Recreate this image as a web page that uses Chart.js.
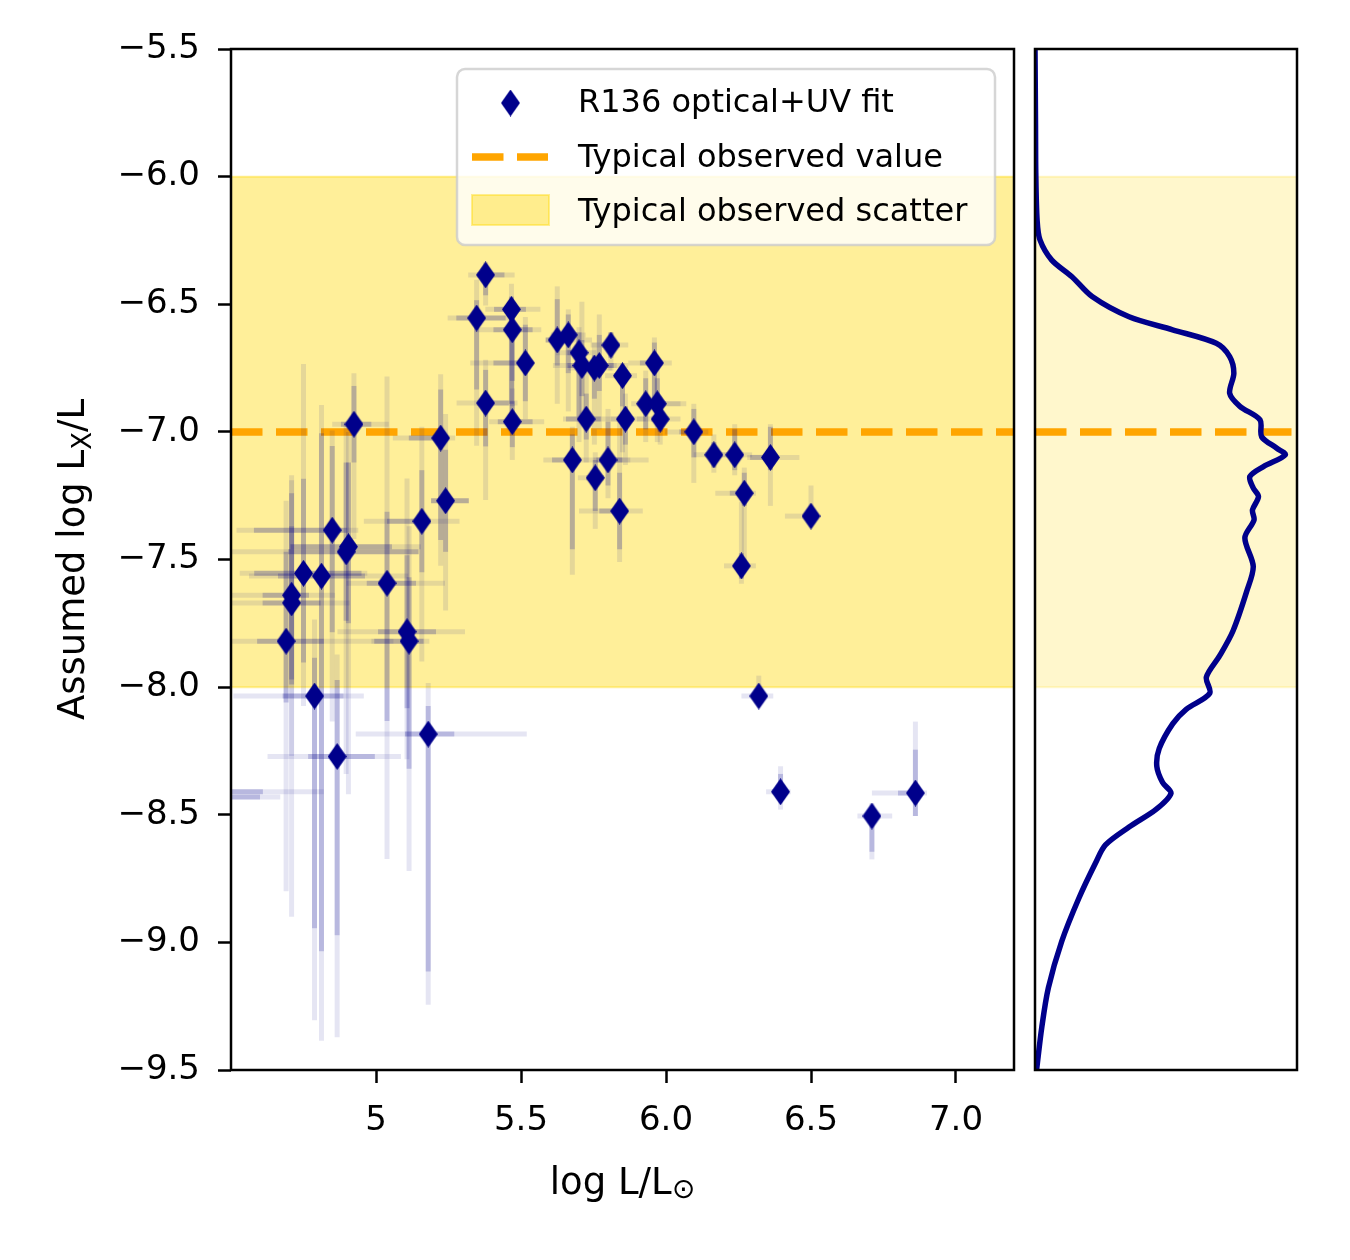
<!DOCTYPE html>
<html>
<head>
<meta charset="utf-8">
<script src="https://cdn.jsdelivr.net/npm/chart.js@4.4.0/dist/chart.umd.min.js"></script>
<style>
  body { margin: 0; background: #fff; }
  #wrap { position: relative; width: 1350px; height: 1260px; }
  #main { position: absolute; left: 0; top: 0; }
  #side { position: absolute; left: 1020px; top: 0; }
</style>
</head>
<body>
<div id="wrap">
  <canvas id="main" width="1025" height="1260"></canvas>
  <canvas id="side" width="300" height="1260"></canvas>
</div>
<script>
// R136 stars: log L/Lsun and assumed log Lx/L
const logL = [4.47, 4.40, 4.69, 4.709, 4.709, 4.75, 4.812, 4.788, 4.866, 4.849, 4.897, 4.905, 4.924,
  5.038, 5.107, 5.114, 5.18, 5.158, 5.223, 5.24,
  5.378, 5.347, 5.467, 5.47, 5.515, 5.378, 5.47, 5.625, 5.663, 5.70, 5.71, 5.753, 5.77, 5.81, 5.85,
  5.96, 5.725, 5.86, 5.93, 5.97, 5.98, 5.677, 5.80, 5.756, 5.84,
  6.096, 6.165, 6.237, 6.36, 6.27, 6.26, 6.50, 6.32, 6.395, 6.71, 6.86];
const logLx = [-8.43, -8.41, -7.82, -7.64, -7.67, -7.554, -7.565, -8.035, -8.272, -7.385, -7.47, -7.45, -6.97,
  -7.593, -7.783, -7.82, -8.184, -7.35, -7.024, -7.27,
  -6.385, -6.554, -6.52, -6.60, -6.73, -6.887, -6.96, -6.64, -6.62, -6.69, -6.74, -6.75, -6.74, -6.66, -6.78,
  -6.73, -6.95, -6.95, -6.89, -6.89, -6.95, -7.11, -7.11, -7.18, -7.31,
  -7.00, -7.09, -7.09, -7.10, -7.24, -7.525, -7.33, -8.035, -8.41, -8.505, -8.415];

// error bars: inner (1 sigma) and outer (2 sigma), lower / upper offsets
const xErrInLo = [0.10, 0.10, 0.10, 0.10, 0.10, 0.17, 0.15, 0.11, 0.10, 0.27, 0.20, 0.20, 0.045,
  0.07, 0.10, 0.12, 0.08, 0.12, 0.11, 0.05,
  0.03, 0.07, 0.06, 0.065, 0.11, 0.03, 0.05, 0.04, 0.03, 0.04, 0.05, 0.05, 0.04, 0.03, 0.03,
  0.05, 0.07, 0.03, 0.03, 0.03, 0.03, 0.07, 0.04, 0.03, 0.07,
  0.05, 0.03, 0.03, 0.07, 0.05, 0.02, 0.00, 0.00, 0.03, 0.00, 0.06];
const xErrInHi = [0.13, 0.21, 0.13, 0.06, 0.10, 0.20, 0.15, 0.10, 0.13, 0.05, 0.25, 0.15, 0.06,
  0.10, 0.10, 0.05, 0.09, 0.03, 0.00, 0.08,
  0.065, 0.10, 0.05, 0.07, 0.00, 0.08, 0.07, 0.04, 0.03, 0.03, 0.05, 0.03, 0.05, 0.03, 0.03,
  0.03, 0.05, 0.03, 0.06, 0.03, 0.03, 0.03, 0.05, 0.03, 0.03,
  0.02, 0.03, 0.03, 0.00, 0.02, 0.02, 0.00, 0.00, 0.00, 0.00, 0.00];
const xErrOutLo = [0.15, 0.20, 0.19, 0.25, 0.30, 0.22, 0.25, 0.28, 0.24, 0.33, 0.55, 0.20, 0.075,
  0.14, 0.24, 0.13, 0.25, 0.20, 0.165, 0.05,
  0.06, 0.10, 0.09, 0.13, 0.19, 0.10, 0.08, 0.04, 0.06, 0.08, 0.10, 0.09, 0.06, 0.07, 0.06,
  0.09, 0.08, 0.05, 0.05, 0.06, 0.08, 0.10, 0.05, 0.06, 0.14,
  0.10, 0.07, 0.04, 0.08, 0.10, 0.06, 0.09, 0.06, 0.05, 0.05, 0.15];
const xErrOutHi = [0.20, 0.42, 0.37, 0.15, 0.20, 0.22, 0.30, 0.17, 0.22, 0.09, 0.25, 0.25, 0.12,
  0.20, 0.20, 0.07, 0.34, 0.13, 0.05, 0.08,
  0.10, 0.12, 0.10, 0.10, 0.03, 0.11, 0.11, 0.12, 0.06, 0.06, 0.12, 0.06, 0.10, 0.06, 0.05,
  0.06, 0.12, 0.07, 0.14, 0.08, 0.07, 0.20, 0.14, 0.03, 0.08,
  0.05, 0.08, 0.06, 0.10, 0.04, 0.05, 0.00, 0.05, 0.035, 0.07, 0.04];
const yErrInLo = [0.30, 0.30, 0.24, 0.35, 0.30, 0.35, 1.47, 0.91, 0.70, 0.40, 0.27, 0.30, 0.15,
  0.54, 0.30, 0.50, 0.93, 0.20, 0.40, 0.20,
  0.08, 0.28, 0.37, 0.20, 0.15, 0.17, 0.10, 0.10, 0.15, 0.25, 0.12, 0.12, 0.10, 0.05, 0.12,
  0.15, 0.08, 0.10, 0.10, 0.08, 0.05, 0.35, 0.10, 0.13, 0.15,
  0.10, 0.05, 0.06, 0.05, 0.05, 0.05, 0.00, 0.00, 0.00, 0.14, 0.09];
const yErrInHi = [0.20, 0.20, 0.35, 0.40, 0.30, 0.37, 0.56, 0.15, 0.30, 0.33, 0.35, 0.33, 0.15,
  0.28, 0.30, 0.25, 0.11, 0.20, 0.19, 0.20,
  0.03, 0.07, 0.05, 0.05, 0.15, 0.13, 0.08, 0.16, 0.08, 0.08, 0.10, 0.05, 0.12, 0.05, 0.03,
  0.08, 0.10, 0.05, 0.10, 0.10, 0.05, 0.10, 0.15, 0.07, 0.15,
  0.09, 0.05, 0.10, 0.12, 0.08, 0.05, 0.00, 0.00, 0.07, 0.03, 0.17];
const yErrOutLo = [0.60, 0.60, 0.98, 1.26, 0.60, 0.52, 1.82, 1.27, 1.10, 0.75, 0.87, 0.97, 0.45,
  1.08, 0.50, 0.90, 1.06, 0.55, 0.50, 0.43,
  0.12, 0.50, 0.45, 0.30, 0.22, 0.38, 0.15, 0.25, 0.30, 0.35, 0.20, 0.30, 0.25, 0.10, 0.30,
  0.17, 0.17, 0.18, 0.15, 0.15, 0.10, 0.45, 0.15, 0.20, 0.20,
  0.20, 0.07, 0.08, 0.19, 0.30, 0.07, 0.00, 0.03, 0.07, 0.17, 0.09];
const yErrOutHi = [0.30, 0.30, 0.55, 0.45, 0.50, 0.82, 0.67, 0.30, 0.40, 0.39, 0.50, 0.45, 0.20,
  0.81, 0.60, 0.45, 0.20, 0.37, 0.25, 0.34,
  0.05, 0.15, 0.10, 0.10, 0.18, 0.17, 0.13, 0.21, 0.10, 0.10, 0.25, 0.10, 0.20, 0.05, 0.05,
  0.10, 0.20, 0.10, 0.13, 0.15, 0.08, 0.13, 0.20, 0.10, 0.35,
  0.11, 0.08, 0.12, 0.13, 0.10, 0.25, 0.12, 0.08, 0.10, 0.05, 0.28];

// typical observed value and scatter
const observedValue = -7.0;
const scatterLow = -8.0;
const scatterHigh = -6.0;

// KDE of log Lx/L (right panel), density scaled to panel width
const kdeLogLx = [-5.5, -5.8, -5.986, -6.17, -6.248, -6.327, -6.392, -6.47, -6.549, -6.60, -6.653, -6.705,
  -6.77, -6.849, -6.90, -6.953, -7.019, -7.064, -7.09, -7.136, -7.175, -7.22, -7.254, -7.306, -7.345,
  -7.415, -7.527, -7.625, -7.779, -7.877, -7.961, -8.024, -8.087, -8.143, -8.241, -8.311, -8.374,
  -8.416, -8.479, -8.548, -8.618, -8.689, -8.828, -8.996, -9.178, -9.332, -9.5];
const kdeDensity = [0.0, 0.002, 0.003, 0.008, 0.019, 0.064, 0.141, 0.218, 0.359, 0.525, 0.692, 0.743,
  0.759, 0.743, 0.782, 0.859, 0.865, 0.923, 0.955, 0.872, 0.82, 0.833, 0.853, 0.83, 0.836,
  0.801, 0.833, 0.808, 0.756, 0.705, 0.654, 0.667, 0.577, 0.526, 0.474, 0.465, 0.487,
  0.519, 0.462, 0.359, 0.269, 0.231, 0.167, 0.102, 0.051, 0.026, 0.006];

const xTicks = [5, 5.5, 6, 6.5, 7];
const xTickLabels = ['5', '5.5', '6.0', '6.5', '7.0'];
const yTicks = [-9.5, -9, -8.5, -8, -7.5, -7, -6.5, -6, -5.5];
const yTickLabels = ['−9.5', '−9.0', '−8.5', '−8.0', '−7.5', '−7.0', '−6.5', '−6.0', '−5.5'];

const NAVY = '#00008b';
const ORANGE = '#ffa500';
const FONT = 'DejaVu Sans';

// thin diamond marker ('d' in matplotlib)
function makeDiamond() {
  const c = document.createElement('canvas');
  c.width = 19; c.height = 27;
  const g = c.getContext('2d');
  g.fillStyle = NAVY;
  g.beginPath();
  g.moveTo(9.5, 0); g.lineTo(19, 13.5); g.lineTo(9.5, 27); g.lineTo(0, 13.5);
  g.closePath();
  g.fill();
  return c;
}
const diamond = makeDiamond();

function spanPlugin(alpha) {
  return {
    id: 'span',
    beforeDatasetsDraw(chart) {
      const {ctx, chartArea: a, scales: {y}} = chart;
      const top = y.getPixelForValue(scatterHigh);
      const bot = y.getPixelForValue(scatterLow);
      ctx.save();
      ctx.fillStyle = 'rgba(255,215,0,' + alpha + ')';
      ctx.fillRect(a.left, top, a.right - a.left, bot - top);
      ctx.strokeStyle = 'rgba(255,215,0,' + alpha + ')';
      ctx.lineWidth = 2;
      ctx.beginPath();
      ctx.moveTo(a.left, top); ctx.lineTo(a.right, top);
      ctx.moveTo(a.left, bot); ctx.lineTo(a.right, bot);
      ctx.stroke();
      ctx.restore();
    }
  };
}

const framePlugin = {
  id: 'frame',
  afterDatasetsDraw(chart) {
    const {ctx, chartArea: a} = chart;
    ctx.save();
    ctx.strokeStyle = '#000';
    ctx.lineWidth = 2.5;
    ctx.strokeRect(a.left, a.top, a.right - a.left, a.bottom - a.top);
    ctx.restore();
  }
};

const errorBarPlugin = {
  id: 'errorbars',
  afterDatasetDraw(chart, args) {
    if (args.index !== 1) return;
    const {ctx, chartArea: a, scales: {x, y}} = chart;
    ctx.save();
    ctx.beginPath();
    ctx.rect(a.left, a.top, a.right - a.left, a.bottom - a.top);
    ctx.clip();
    ctx.lineWidth = 5;
    ctx.lineCap = 'butt';
    const layers = [
      ['rgba(0,0,139,0.1)', xErrOutLo, xErrOutHi, yErrOutLo, yErrOutHi],
      ['rgba(0,0,139,0.2)', xErrInLo, xErrInHi, yErrInLo, yErrInHi]
    ];
    layers.forEach(([col, xl, xh, yl, yh]) => {
      ctx.strokeStyle = col;
      logL.forEach((lx, i) => {
        const ly = logLx[i];
        const px = x.getPixelForValue(lx);
        const py = y.getPixelForValue(ly);
        if (xl[i] + xh[i] > 0) {
          ctx.beginPath();
          ctx.moveTo(x.getPixelForValue(lx - xl[i]), py);
          ctx.lineTo(x.getPixelForValue(lx + xh[i]), py);
          ctx.stroke();
        }
        if (yl[i] + yh[i] > 0) {
          ctx.beginPath();
          ctx.moveTo(px, y.getPixelForValue(ly - yl[i]));
          ctx.lineTo(px, y.getPixelForValue(ly + yh[i]));
          ctx.stroke();
        }
      });
    });
    ctx.restore();
  }
};

// axis titles with sub/superscript parts, and the legend box
const textPlugin = {
  id: 'texts',
  afterDraw(chart) {
    const {ctx, chartArea: a} = chart;
    ctx.save();
    ctx.fillStyle = '#000';
    ctx.textBaseline = 'alphabetic';

    // y title: Assumed log L_X/L
    const yParts = [['Assumed log L', 37, 0], ['X', 26, 7], ['/L', 37, 0]];
    let total = 0;
    yParts.forEach(p => { ctx.font = p[1] + 'px "' + FONT + '"'; total += ctx.measureText(p[0]).width; });
    ctx.save();
    ctx.translate(84, (a.top + a.bottom) / 2);
    ctx.rotate(-Math.PI / 2);
    let cx = -total / 2;
    yParts.forEach(p => {
      ctx.font = p[1] + 'px "' + FONT + '"';
      ctx.fillText(p[0], cx, p[2]);
      cx += ctx.measureText(p[0]).width;
    });
    ctx.restore();

    // x title: log L/L_sun
    const xParts = [['log L/L', 37, 0], ['⊙', 28, 4]];
    total = 0;
    xParts.forEach(p => { ctx.font = p[1] + 'px "' + FONT + '"'; total += ctx.measureText(p[0]).width; });
    cx = (a.left + a.right) / 2 - total / 2;
    xParts.forEach(p => {
      ctx.font = p[1] + 'px "' + FONT + '"';
      ctx.fillText(p[0], cx, 1194 + p[2]);
      cx += ctx.measureText(p[0]).width;
    });

    // legend
    const lx = a.left + 226, ly = a.top + 20, lw = 538, lh = 176;
    ctx.beginPath();
    ctx.roundRect(lx, ly, lw, lh, 8);
    ctx.fillStyle = 'rgba(255,255,255,0.8)';
    ctx.fill();
    ctx.strokeStyle = 'rgba(204,204,204,0.8)';
    ctx.lineWidth = 2.5;
    ctx.stroke();

    ctx.drawImage(diamond, lx + 44, ly + 34 - 13.5);
    ctx.strokeStyle = ORANGE;
    ctx.lineWidth = 7.5;
    ctx.setLineDash([31.5, 13.5]);
    ctx.beginPath();
    ctx.moveTo(lx + 15, ly + 88);
    ctx.lineTo(lx + 91, ly + 88);
    ctx.stroke();
    ctx.setLineDash([]);
    ctx.fillStyle = 'rgba(255,215,0,0.4)';
    ctx.fillRect(lx + 15, ly + 126, 77, 30);
    ctx.strokeStyle = 'rgba(255,215,0,0.4)';
    ctx.lineWidth = 2;
    ctx.strokeRect(lx + 15, ly + 126, 77, 30);

    ctx.fillStyle = '#000';
    ctx.font = '32px "' + FONT + '"';
    ctx.textBaseline = 'middle';
    ctx.fillText('R136 optical+UV fit', lx + 121, ly + 35);
    ctx.fillText('Typical observed value', lx + 121, ly + 90);
    ctx.fillText('Typical observed scatter', lx + 121, ly + 144);
    ctx.restore();
  }
};

new Chart(document.getElementById('main'), {
  type: 'scatter',
  data: {
    datasets: [{
      label: 'R136 optical+UV fit',
      data: logL.map((v, i) => ({x: v, y: logLx[i]})),
      pointStyle: diamond,
      pointRadius: 10,
      clip: 0,
      order: 1
    }, {
      label: 'Typical observed value',
      data: [{x: 4.5, y: observedValue}, {x: 7.2, y: observedValue}],
      showLine: true,
      borderColor: ORANGE,
      borderWidth: 7.5,
      borderDash: [31.5, 13.5],
      borderCapStyle: 'butt',
      pointRadius: 0,
      order: 2
    }]
  },
  options: {
    responsive: false,
    devicePixelRatio: 1,
    animation: false,
    layout: {padding: {left: 0, top: 49, right: 11, bottom: 0}},
    plugins: {legend: {display: false}, tooltip: {enabled: false}},
    scales: {
      x: {
        type: 'linear', min: 4.5, max: 7.2,
        afterBuildTicks: s => { s.ticks = xTicks.map(v => ({value: v})); },
        afterFit: s => { s.height = 190; s.paddingLeft = 0; s.paddingRight = 0; },
        ticks: {
          callback: v => xTickLabels[xTicks.indexOf(v)],
          font: {family: FONT, size: 34}, color: '#000', padding: 18, maxRotation: 0
        },
        grid: {drawOnChartArea: false, tickLength: 13, tickWidth: 2.5, tickColor: '#000'},
        border: {display: false}
      },
      y: {
        type: 'linear', min: -9.5, max: -5.5,
        afterBuildTicks: s => { s.ticks = yTicks.map(v => ({value: v})); },
        afterFit: s => { s.width = 231; s.paddingTop = 0; s.paddingBottom = 0; },
        ticks: {
          callback: v => yTickLabels[yTicks.indexOf(v)],
          font: {family: FONT, size: 34}, color: '#000', padding: 18
        },
        grid: {drawOnChartArea: false, tickLength: 13, tickWidth: 2.5, tickColor: '#000'},
        border: {display: false}
      }
    }
  },
  plugins: [spanPlugin(0.4), errorBarPlugin, framePlugin, textPlugin]
});

new Chart(document.getElementById('side'), {
  type: 'scatter',
  data: {
    datasets: [{
      label: 'KDE',
      data: kdeDensity.map((d, i) => ({x: d, y: kdeLogLx[i]})),
      showLine: true,
      borderColor: NAVY,
      borderWidth: 5.5,
      tension: 0.3,
      pointRadius: 0,
      order: 1
    }, {
      label: 'Typical observed value',
      data: [{x: 0, y: observedValue}, {x: 1, y: observedValue}],
      showLine: true,
      borderColor: ORANGE,
      borderWidth: 7.5,
      borderDash: [31.5, 13.5],
      borderCapStyle: 'butt',
      pointRadius: 0,
      order: 2
    }]
  },
  options: {
    responsive: false,
    devicePixelRatio: 1,
    animation: false,
    layout: {padding: {left: 15, top: 49, right: 23, bottom: 190}},
    plugins: {legend: {display: false}, tooltip: {enabled: false}},
    scales: {
      x: {type: 'linear', min: 0, max: 1, display: false},
      y: {type: 'linear', min: -9.5, max: -5.5, display: false}
    }
  },
  plugins: [spanPlugin(0.2), framePlugin]
});
</script>
</body>
</html>
